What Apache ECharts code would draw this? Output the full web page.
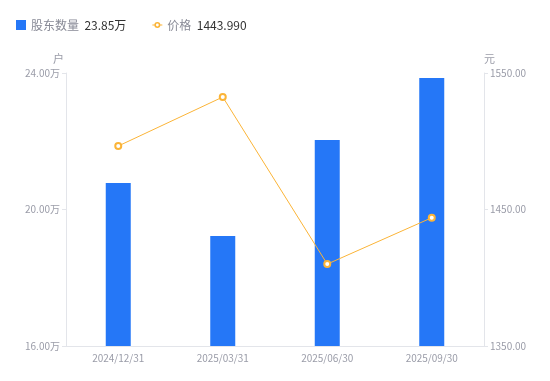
<!DOCTYPE html>
<html><head><meta charset="utf-8">
<script src="https://cdn.jsdelivr.net/npm/echarts@6/dist/echarts.min.js"></script>
<style>html,body{margin:0;padding:0;background:#fff}#c{width:550px;height:381px}</style>
</head><body><div id="c"></div>
<script>
var categories = ['2024/12/31','2025/03/31','2025/06/30','2025/09/30'];
var holders = [20.78, 19.22, 22.04, 23.85];
var prices = [1496.5, 1532.4, 1410.0, 1443.99];
var leftTicks = {min:16, max:24, interval:4};
var rightTicks = {min:1350, max:1550, interval:100};
var legendValues = {'股东数量':'23.85万','价格':'1443.990'};

var chart = echarts.init(document.getElementById('c'), null, {renderer:'canvas'});
var axisCol = '#e3e5ea', labCol = '#9a9ca8', font = '"Noto Sans CJK SC","Noto Sans",sans-serif';
var lineIcon = 'path://M0,4.5h2.2v1h-2.2z M7.8,4.5h2.2v1h-2.2z M2,5 A3,3 0 1,1 8,5 A3,3 0 1,1 2,5 Z M3.6,5 A1.4,1.4 0 1,0 6.4,5 A1.4,1.4 0 1,0 3.6,5 Z';
chart.setOption({
  animation:false,
  textStyle:{fontFamily:font},
  legend:{
    left:11, top:14, itemGap:26, itemWidth:10, itemHeight:10, symbolKeepAspect:true,
    data:[{name:'股东数量', icon:'rect'}, {name:'价格', icon:lineIcon, itemStyle:{color:'#fbb437', borderWidth:0}}],
    formatter:function(n){return '{a|'+n+'}  {b|'+legendValues[n]+'}';},
    textStyle:{rich:{a:{color:'#888a96',fontSize:12,fontFamily:font},b:{color:'#333',fontSize:12,fontFamily:font}}}
  },
  grid:{left:66, right:66, top:73, bottom:35},
  xAxis:{type:'category', data:categories,
    axisLine:{lineStyle:{color:axisCol}}, axisTick:{show:false},
    axisLabel:{color:labCol, fontSize:10, margin:7}},
  yAxis:[
    {type:'value', name:'户', nameGap:9, min:leftTicks.min, max:leftTicks.max, interval:leftTicks.interval,
     nameTextStyle:{color:labCol, fontSize:11, align:'right', padding:[0,2,0,0]},
     axisLine:{show:true, lineStyle:{color:axisCol}}, axisTick:{show:true, length:4, lineStyle:{color:axisCol}},
     splitLine:{show:false},
     axisLabel:{color:labCol, fontSize:10, margin:6, formatter:function(v){return v.toFixed(2)+'万';}}},
    {type:'value', name:'元', nameGap:9, min:rightTicks.min, max:rightTicks.max, interval:rightTicks.interval,
     nameTextStyle:{color:labCol, fontSize:11, align:'left', padding:[0,0,0,0]},
     axisLine:{show:true, lineStyle:{color:axisCol}}, axisTick:{show:true, length:4, lineStyle:{color:axisCol}},
     splitLine:{show:false},
     axisLabel:{color:labCol, fontSize:10, margin:6, formatter:function(v){return v.toFixed(2);}}}
  ],
  series:[
    {name:'股东数量', type:'bar', data:holders, barWidth:25, itemStyle:{color:'#2577f7'}},
    {name:'价格', type:'line', yAxisIndex:1, data:prices, symbol:'circle', symbolSize:6,
     lineStyle:{color:'#fbb437', width:1}, itemStyle:{color:'#fff', borderColor:'#fbb437', borderWidth:2}}
  ]
});
</script></body></html>
